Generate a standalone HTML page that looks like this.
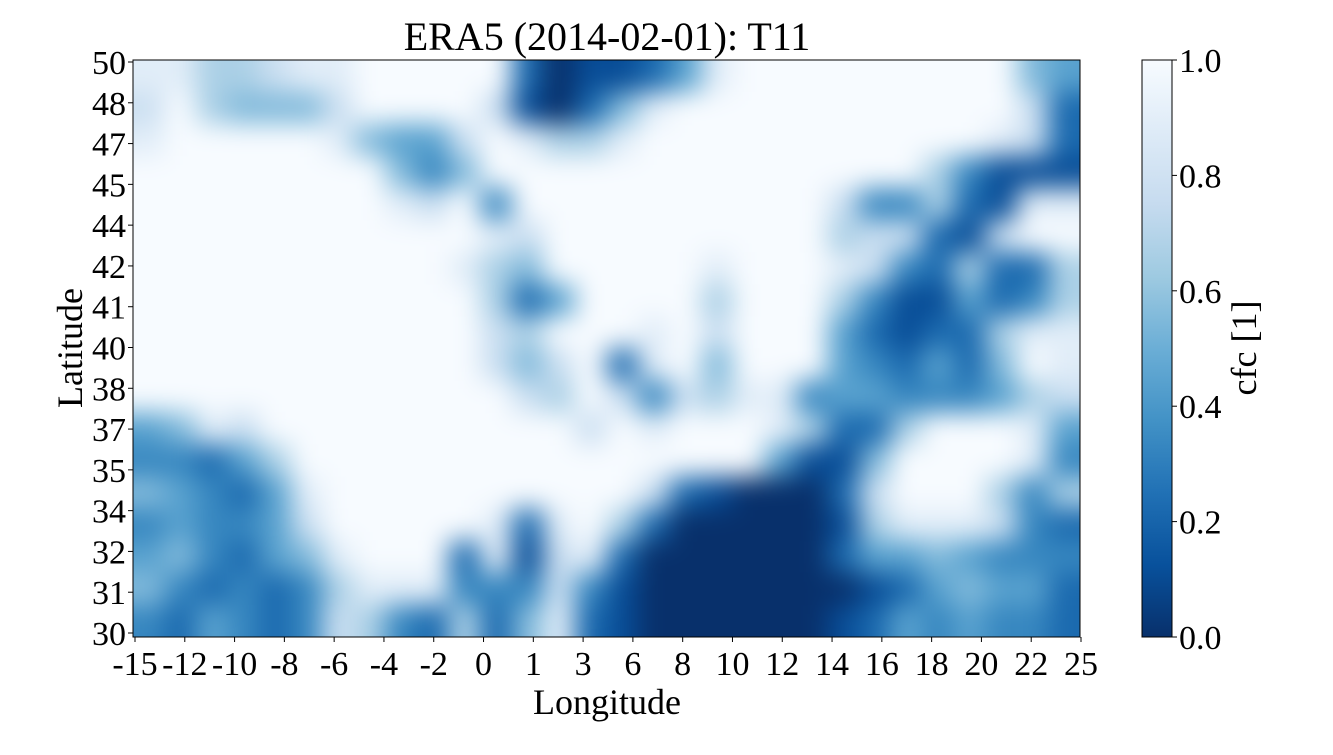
<!DOCTYPE html>
<html><head><meta charset="utf-8"><style>
body{margin:0;background:#fff;width:1333px;height:750px;overflow:hidden}
svg text{font-family:"Liberation Serif",serif;fill:#000}
</style></head><body>
<svg id="chart" width="1333" height="750" xmlns="http://www.w3.org/2000/svg">
<defs>
<clipPath id="plotclip"><rect x="133" y="60" width="947" height="577"/></clipPath>
<filter id="blur" filterUnits="userSpaceOnUse" x="0" y="0" width="1333" height="750" color-interpolation-filters="sRGB"><feGaussianBlur stdDeviation="13"/></filter>
<linearGradient id="cbgrad" x1="0" y1="1" x2="0" y2="0">
<stop offset="0" stop-color="#08306b"/><stop offset="0.125" stop-color="#08519c"/><stop offset="0.25" stop-color="#2171b5"/><stop offset="0.375" stop-color="#4292c6"/><stop offset="0.5" stop-color="#6baed6"/><stop offset="0.625" stop-color="#9ecae1"/><stop offset="0.75" stop-color="#c6dbef"/><stop offset="0.875" stop-color="#deebf7"/><stop offset="1" stop-color="#f7fbff"/>
</linearGradient>
</defs>
<rect x="133" y="60" width="947" height="577" fill="#f7fbff"/>
<g clip-path="url(#plotclip)"><g id="cells" filter="url(#blur)"></g></g>
<rect x="133" y="60" width="947" height="577" fill="none" stroke="#000" stroke-width="1"/>
<g id="axes"></g>
<text x="607" y="50" font-size="40" text-anchor="middle">ERA5 (2014-02-01): T11</text>
<text x="607" y="714" font-size="36" text-anchor="middle">Longitude</text>
<text x="0" y="0" font-size="36" text-anchor="middle" transform="translate(82,348) rotate(-90)">Latitude</text>
<rect x="1142" y="60" width="30" height="577" fill="url(#cbgrad)" stroke="#000" stroke-width="1"/>
<text x="0" y="0" font-size="36" text-anchor="middle" transform="translate(1256,348) rotate(-90)">cfc [1]</text>
</svg>
<script>
const rows = [
"886678899999201124899999999954",
"796555799997102589999999999972",
"899999854479866899999999999872",
"999999995359999999999999963111",
"999999998793999999999973362188",
"999999999998799999999967721799",
"999999999986599999899987326226",
"999999999996249999699963114236",
"999999999997699989799942122688",
"999999999997579289599943242598",
"999999999999769737688344333467",
"458799999999997989998622699984",
"332469999999999999994115999983",
"543248999999999972100027999636",
"343347999998289620000016888732",
"453245899928178200000024454333",
"532323688833373100000001245442",
"324323763262582100000012434332"
];
const xTicks = ["-15","-12","-10","-8","-6","-4","-2","0","1","3","6","8","10","12","14","16","18","20","22","25"];
const yTicks = ["30","31","32","34","35","37","38","40","41","42","44","45","47","48","50"];
const cbTicks = ["0.0","0.2","0.4","0.6","0.8","1.0"];

const NS="http://www.w3.org/2000/svg";
const PX=133,PY=60,PW=947,PH=577;
const stops=["#08306b","#08519c","#2171b5","#4292c6","#6baed6","#9ecae1","#c6dbef","#deebf7","#f7fbff"];
function hex(h){return [1,3,5].map(i=>parseInt(h.substr(i,2),16));}
function cmap(v){v=Math.max(0,Math.min(1,v));const t=v*8,i=Math.min(7,Math.floor(t)),f=t-i;const a=hex(stops[i]),b=hex(stops[i+1]);return "rgb("+a.map((x,k)=>Math.round(x+(b[k]-x)*f)).join(",")+")";}
const nR=rows.length,nC=rows[0].length;
const cw=PW/nC,ch=PH/nR;
function xs(c){return PX+c*cw;}
function ys(r){return PY+r*ch;}
const g=document.getElementById("cells");
for(let r=-2;r<nR+2;r++){for(let c=-2;c<nC+2;c++){
 const rr=Math.max(0,Math.min(nR-1,r)),cc=Math.max(0,Math.min(nC-1,c));
 const v=parseInt(rows[rr][cc])/9;
 const el=document.createElementNS(NS,"rect");
 
 
 el.setAttribute("x",xs(c));el.setAttribute("y",ys(r));
 el.setAttribute("width",cw+0.6);el.setAttribute("height",ch+0.6);
 el.setAttribute("fill",cmap(v));g.appendChild(el);
}}
const ax=document.getElementById("axes");
function line(x1,y1,x2,y2){const l=document.createElementNS(NS,"line");l.setAttribute("x1",x1);l.setAttribute("y1",y1);l.setAttribute("x2",x2);l.setAttribute("y2",y2);l.setAttribute("stroke","#000");l.setAttribute("stroke-width","1");ax.appendChild(l);return l;}
function txt(x,y,s,anchor){const t=document.createElementNS(NS,"text");t.setAttribute("x",x);t.setAttribute("y",y);t.setAttribute("font-size","34");t.setAttribute("text-anchor",anchor);t.textContent=s;ax.appendChild(t);return t;}
xTicks.forEach((s,i)=>{const x=135+i*(1081-135)/(xTicks.length-1);
 const l=line(x,637,x,642);
 
 
 const t=txt(x,675,s,"middle");
 
 
});
yTicks.forEach((s,i)=>{const y=633-i*(633-62)/(yTicks.length-1);
 const l=line(128,y,133,y);
 
 
 const t=txt(126,y+12,s,"end");
 
 
});
cbTicks.forEach((s,i)=>{const y=637-parseFloat(s)*577;
 const l=line(1172,y,1177,y);
 
 
 const t=txt(1179,y+12,s,"start");
 
 
});
</script>
</body></html>
